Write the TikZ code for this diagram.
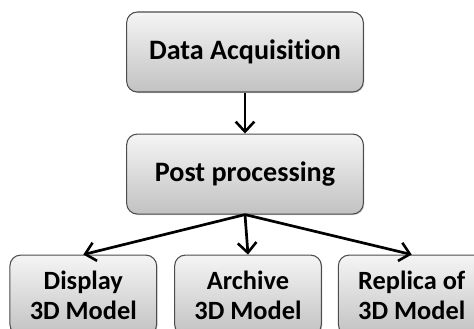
\documentclass[tikz,border=0pt]{standalone}
\usepackage{fontspec}
\setmainfont{Carlito}[Ligatures=NoCommon]
\usepackage{tikz}
\usetikzlibrary{
    arrows.meta,
    positioning,
    shadows
}

\begin{document}
\begin{tikzpicture}[
    >={Straight Barb[length=3mm, width=5.6mm, line width=2.2pt]},
    stage/.style={rectangle, rounded corners=0.32cm, draw=black!70,
                  line width=0.9pt, top color=black!4, bottom color=black!24,
                  drop shadow={shadow xshift=0.3mm, shadow yshift=-0.3mm,
                               opacity=0.35},
                  minimum width=7.1cm, minimum height=2.4cm,
                  align=center, font=\bfseries\fontsize{24}{25.5}\selectfont},
    leaf/.style={stage, minimum width=4.4cm,
                 font=\bfseries\fontsize{22.5}{25.5}\selectfont},
    link/.style={->, line width=2.3pt}
]

% canvas
\clip (0,0) rectangle (14.22,-9.87);
\useasboundingbox (0,0) rectangle (14.22,-9.87);

% =========================
% 1) MAIN CHAIN
% =========================
\node[stage] (acq) at (7.35,-1.56)        {Data Acquisition};
\node[stage, below=1.23cm of acq] (post)  {Post processing};

% =========================
% 2) OUTPUTS
% =========================
\node[leaf, below=1.2cm of post, xshift=0.09cm] (arch) {Archive\\3D Model};
\node[leaf, left=0.51cm of arch] (disp)   {Display\\3D Model};
\node[leaf, right=0.48cm of arch] (repl)  {Replica of\\3D Model};

\draw[link] (acq) -- (post);
\draw[link] (post.south) -- (disp.north);
\draw[link] (post.south) -- (arch.north);
\draw[link] (post.south) -- (repl.north);

\end{tikzpicture}
\end{document}
